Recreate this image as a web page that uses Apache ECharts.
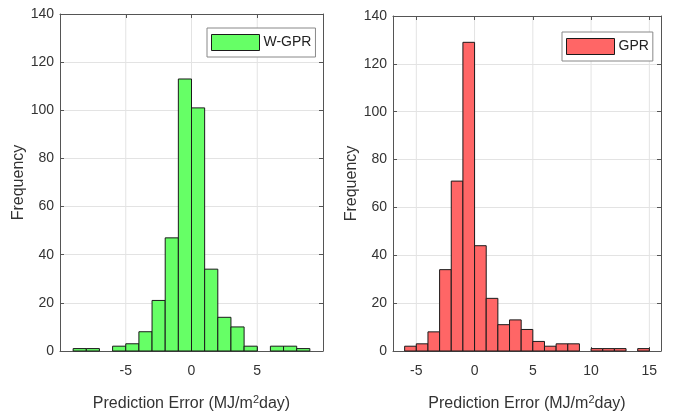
<!DOCTYPE html>
<html><head><meta charset="utf-8">
<script src="https://cdn.jsdelivr.net/npm/echarts@6/dist/echarts.min.js"></script>
<style>html,body{margin:0;padding:0;background:#fff}#c{width:674px;height:418px}</style>
</head><body><div id="c"></div>
<script>
// Bin left edges (width 1) and counts
var wgprBinStart = [-9,-8,-7,-6,-5,-4,-3,-2,-1,0,1,2,3,4,5,6,7,8];
var wgprCounts   = [ 1, 1, 0, 2, 3, 8,21,47,113,101,34,14,10,2,0,2,2,1];
var gprBinStart  = [-6,-5,-4,-3,-2,-1,0,1,2,3,4,5,6,7,8,9,10,11,12,13,14];
var gprCounts    = [ 2, 3, 8,34,71,129,44,22,11,13,9,4,2,3,3,0,1,1,1,0,1];
var binWidth = 1;
var yTicks = [0,20,40,60,80,100,120,140];
var leftXTicks = [-5,0,5];
var rightXTicks = [-5,0,5,10,15];
var leftXRange = [-10, 10];
var rightXRange = [-7, 16];

function toData(starts, counts){
  return starts.map(function(s,i){ return [s, s+binWidth, counts[i]]; });
}
function renderBar(params, api){
  var x0 = api.value(0), x1 = api.value(1), v = api.value(2);
  if (!v) return null;
  var p0 = api.coord([x0, v]);
  var p1 = api.coord([x1, 0]);
  return {
    type: 'rect',
    shape: {x: p0[0], y: p0[1], width: p1[0]-p0[0], height: p1[1]-p0[1]},
    style: api.style({stroke: '#1a1a1a', lineWidth: 1})
  };
}
var font = 'Liberation Sans, Arial, sans-serif';
var txt = '#333';
var axc = '#555';
function xAxisMain(gi, range, ticks){
  return {
    type:'value', gridIndex: gi, min: range[0], max: range[1],
    position:'bottom',
    axisLine:{show:true, onZero:false, lineStyle:{color:axc, width:1}},
    axisTick:{show:true, inside:true, length:4, lineStyle:{color:axc}, customValues: ticks},
    axisLabel:{color:txt, fontSize:14, fontFamily:font, margin:13, customValues: ticks},
    splitLine:{show:false},
    name:'Prediction Error (MJ/m{sup|2}day)', nameLocation:'middle', nameGap:43,
    nameTextStyle:{color:txt, fontSize:16, fontFamily:font,
      rich:{sup:{fontSize:11, fontFamily:font, color:txt, padding:[0,0,9,0]}}}
  };
}
function xAxisTop(gi, range, ticks){
  return {
    type:'value', gridIndex: gi, min: range[0], max: range[1], position:'top',
    axisLine:{show:true, onZero:false, lineStyle:{color:axc}},
    axisTick:{show:true, inside:true, length:4, lineStyle:{color:axc}, customValues: ticks},
    axisLabel:{show:false, customValues: ticks}, splitLine:{show:false}
  };
}
function yAxisMain(gi){
  return {
    type:'value', gridIndex: gi, min: yTicks[0], max: yTicks[yTicks.length-1], interval: 20,
    position:'left',
    axisLine:{show:true, onZero:false, lineStyle:{color:axc}},
    axisTick:{show:true, inside:true, length:4, lineStyle:{color:axc}},
    axisLabel:{color:txt, fontSize:14, fontFamily:font, margin:6},
    splitLine:{show:true, lineStyle:{color:'#e3e3e3', width:1}},
    name:'Frequency', nameLocation:'middle', nameGap:32,
    nameTextStyle:{color:txt, fontSize:16, fontFamily:font}
  };
}
function yAxisRight(gi){
  return {
    type:'value', gridIndex: gi, min: yTicks[0], max: yTicks[yTicks.length-1], interval: 20,
    position:'right',
    axisLine:{show:true, onZero:false, lineStyle:{color:axc}},
    axisTick:{show:true, inside:true, length:4, lineStyle:{color:axc}},
    axisLabel:{show:false}, splitLine:{show:false}
  };
}
// vertical grid lines at x tick values, drawn through the x axis scale
function vGrid(xi, yi, ticks){
  return {
    type:'custom', xAxisIndex:xi, yAxisIndex:yi, silent:true, z:0,
    data: ticks.map(function(t){ return [t]; }),
    renderItem:function(params, api){
      var top = api.coord([api.value(0), yTicks[yTicks.length-1]]);
      var bot = api.coord([api.value(0), yTicks[0]]);
      return {type:'line', shape:{x1:top[0], y1:top[1], x2:bot[0], y2:bot[1]},
        style:{stroke:'#e3e3e3', lineWidth:1}};
    }
  };
}
var chart = echarts.init(document.getElementById('c'), null, {renderer:'canvas'});
chart.setOption({
  animation:false,
  backgroundColor:'#fff',
  grid:[
    {left:60, top:14, width:263, height:337},
    {left:393, top:16, width:268, height:335}
  ],
  xAxis:[xAxisMain(0,leftXRange,leftXTicks), xAxisTop(0,leftXRange,leftXTicks),
         xAxisMain(1,rightXRange,rightXTicks), xAxisTop(1,rightXRange,rightXTicks)],
  yAxis:[yAxisMain(0), yAxisRight(0), yAxisMain(1), yAxisRight(1)],
  legend:[
    {data:['W-GPR'], left:207, top:28, orient:'vertical', itemWidth:48, itemHeight:16, itemGap:0,
     padding:[6,4,6,4], borderColor:'#888', borderWidth:1, backgroundColor:'#fff', borderRadius:0,
     textStyle:{color:'#222', fontSize:14, fontFamily:font, padding:[0,0,0,-1]},
     itemStyle:{borderColor:'#1a1a1a', borderWidth:1}, icon:'rect', selectedMode:false},
    {data:['GPR'], left:562, top:32, orient:'vertical', itemWidth:48, itemHeight:16, itemGap:0,
     padding:[6,4,6,4], borderColor:'#888', borderWidth:1, backgroundColor:'#fff', borderRadius:0,
     textStyle:{color:'#222', fontSize:14, fontFamily:font, padding:[0,0,0,-1]},
     itemStyle:{borderColor:'#1a1a1a', borderWidth:1}, icon:'rect', selectedMode:false}
  ],
  series:[
    vGrid(0,0,leftXTicks),
    vGrid(2,2,rightXTicks),
    {name:'W-GPR', type:'custom', xAxisIndex:0, yAxisIndex:0, renderItem:renderBar,
     itemStyle:{color:'#66ff66'}, encode:{x:[0,1], y:2}, data: toData(wgprBinStart, wgprCounts)},
    {name:'GPR', type:'custom', xAxisIndex:2, yAxisIndex:2, renderItem:renderBar,
     itemStyle:{color:'#ff6666'}, encode:{x:[0,1], y:2}, data: toData(gprBinStart, gprCounts)}
  ]
});
</script></body></html>
